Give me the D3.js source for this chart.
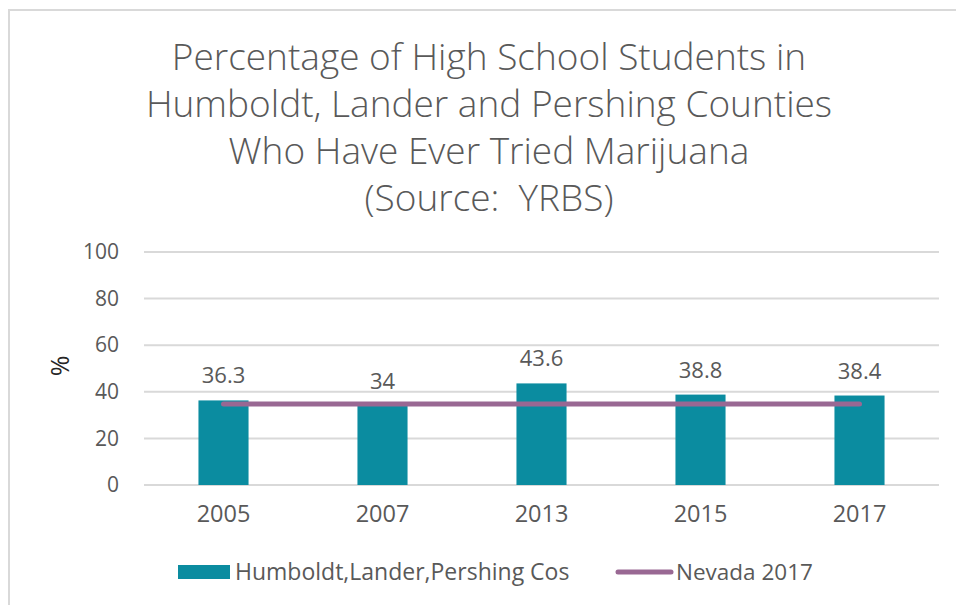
<!DOCTYPE html>
<html>
<head>
<meta charset="utf-8">
<script src="https://cdn.jsdelivr.net/npm/d3@7"></script>
<style>
  body { margin: 0; background: #fff; }
  text { font-family: "Open Sans", "Noto Sans", sans-serif; fill: #595959; }
</style>
</head>
<body>
<div id="chart"></div>
<script>
// data
const years = ["2005", "2007", "2013", "2015", "2017"];
const countyValues = [36.3, 34, 43.6, 38.8, 38.4];
const nevadaValues = [34.8, 34.8, 34.8, 34.8, 34.8];
const yTicks = [0, 20, 40, 60, 80, 100];
const titleLines = [
    "Percentage of High School Students in",
    "Humboldt, Lander and Pershing Counties",
    "Who Have Ever Tried Marijuana",
    "(Source:  YRBS)"
];
const seriesNames = ["Humboldt,Lander,Pershing Cos", "Nevada 2017"];

const W = 956, H = 605;
const barColor = "#0b8ca0";
const lineColor = "#996893";

const svg = d3.select("#chart").append("svg")
    .attr("width", W)
    .attr("height", H);

// chart border (only left and top visible in the crop)
svg.append("path")
    .attr("d", "M9,605 L9,10 L956,10")
    .attr("fill", "none")
    .attr("stroke", "#d9d9d9")
    .attr("stroke-width", 2);

// title
svg.append("g").selectAll("text")
    .data(titleLines)
    .enter()
    .append("text")
    .attr("x", 489)
    .attr("y", (d, i) => 70 + i * 47)
    .attr("text-anchor", "middle")
    .style("font-size", "37px")
    .style("font-weight", 300)
    .style("white-space", "pre")
    .text(d => d);

const x = d3.scaleBand()
    .domain(years)
    .range([144, 939])
    .paddingInner(0.685)
    .paddingOuter(0.3425);

const y = d3.scaleLinear()
    .domain([0, 100])
    .range([485, 252]);

// gridlines
svg.append("g").selectAll("line")
    .data(yTicks)
    .enter()
    .append("line")
    .attr("x1", 144)
    .attr("x2", 939)
    .attr("y1", d => y(d))
    .attr("y2", d => y(d))
    .attr("stroke", "#d9d9d9")
    .attr("stroke-width", 2);

// y axis labels
const yAxis = svg.append("g")
    .attr("transform", "translate(144,0)")
    .call(d3.axisLeft(y).tickValues(yTicks).tickSize(0).tickPadding(25));
yAxis.select(".domain").remove();
yAxis.selectAll("text")
    .style("font-size", "21px")
    .attr("fill", "#595959")
    .style("font-family", "\"Open Sans\", sans-serif");

// x axis labels
const xAxis = svg.append("g")
    .attr("transform", "translate(0,485)")
    .call(d3.axisBottom(x).tickSize(0).tickPadding(20));
xAxis.select(".domain").remove();
xAxis.selectAll("text")
    .style("font-size", "23.5px")
    .attr("fill", "#595959")
    .style("font-family", "\"Open Sans\", sans-serif");

// y axis title
svg.append("text")
    .attr("transform", "translate(69,366) rotate(-90)")
    .attr("text-anchor", "middle")
    .style("font-size", "25px")
    .style("fill", "#262626")
    .text("%");

// bars
svg.append("g").selectAll("rect")
    .data(countyValues)
    .enter()
    .append("rect")
    .attr("x", (d, i) => x(years[i]))
    .attr("y", d => y(d))
    .attr("width", x.bandwidth())
    .attr("height", d => y(0) - y(d))
    .attr("fill", barColor);

// bar labels
svg.append("g").selectAll("text")
    .data(countyValues)
    .enter()
    .append("text")
    .attr("x", (d, i) => x(years[i]) + x.bandwidth() / 2)
    .attr("y", d => y(d) - 17)
    .attr("text-anchor", "middle")
    .style("font-size", "22px")
    .text(d => d);

// Nevada line
const line = d3.line()
    .x((d, i) => x(years[i]) + x.bandwidth() / 2)
    .y(d => y(d));

svg.append("path")
    .datum(nevadaValues)
    .attr("d", line)
    .attr("fill", "none")
    .attr("stroke", lineColor)
    .attr("stroke-width", 5)
    .attr("stroke-linecap", "round");

// legend
const legend = svg.append("g");
legend.append("rect")
    .attr("x", 178)
    .attr("y", 565)
    .attr("width", 52)
    .attr("height", 14)
    .attr("fill", barColor);
legend.append("text")
    .attr("x", 235)
    .attr("y", 580)
    .style("font-size", "23px")
    .text(seriesNames[0]);
legend.append("line")
    .attr("x1", 618)
    .attr("x2", 671)
    .attr("y1", 572)
    .attr("y2", 572)
    .attr("stroke", lineColor)
    .attr("stroke-width", 5)
    .attr("stroke-linecap", "round");
legend.append("text")
    .attr("x", 676)
    .attr("y", 580)
    .style("font-size", "22.5px")
    .text(seriesNames[1]);
</script>
</body>
</html>
